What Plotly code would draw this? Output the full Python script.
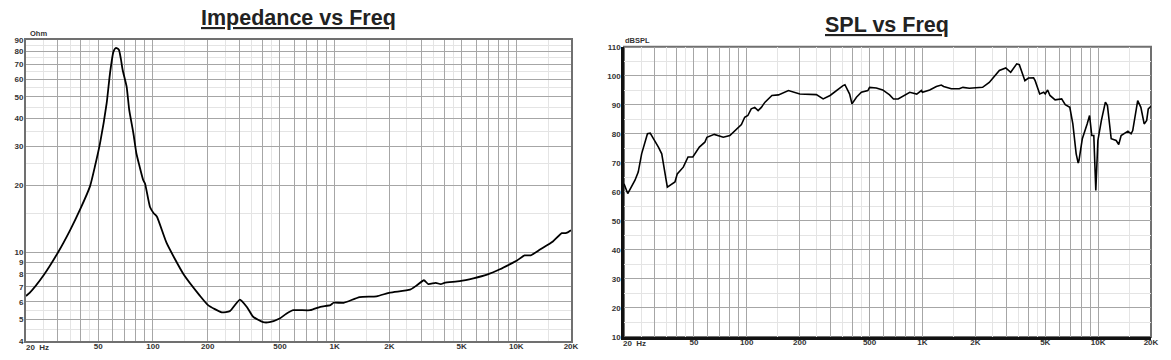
import numpy as np
import plotly.graph_objects as go

# ---------------- data ----------------
imp_freq = [20, 21, 25, 30, 35, 40, 45, 48, 51.1, 55.6, 58.0, 60.6, 62.6, 64.9, 66.5, 68.1, 71.6, 74.0,
            78, 81, 84, 88.4, 90.4, 96.3,
            100.9, 105, 119, 147, 181, 201, 239, 265, 301, 328, 356, 404, 438, 498, 542, 591, 733,
            834, 948, 986, 1122, 1372, 1700, 2014, 2600, 2825, 3100, 3280, 3600, 3840, 4020, 4880,
            5800, 6900, 8120, 9600, 10100, 11100, 12000, 13500, 15900, 17800, 18700, 19800, 20000]
imp_ohm = [6.37, 6.6, 7.9, 10.0, 12.6, 15.8, 19.8, 24.5, 30.9, 46.8, 63.8, 79.8, 83, 81.3, 74.4, 66, 55.6, 43.7,
           34.3, 27.9, 24.7, 21.1, 20.4, 16,
           15, 14.5, 11, 8.0, 6.4, 5.8, 5.38, 5.45, 6.14, 5.7, 5.14, 4.86, 4.86, 5.05, 5.3, 5.5, 5.5,
           5.7, 5.8, 5.94, 5.94, 6.3, 6.35, 6.6, 6.8, 7.1, 7.5, 7.2, 7.3, 7.2, 7.3, 7.43,
           7.65, 7.95, 8.4, 9.0, 9.2, 9.7, 9.7, 10.3, 11.2, 12.2, 12.2, 12.5, 12.6]

spl_freq = [20, 21, 23.1, 24.1, 25.2, 27.2, 28.2, 29.1, 30.0, 31.4, 32.8, 33.8, 34.7, 35.3, 39.0, 40.2,
            43.5, 46.3, 49.3, 53.7, 57.7, 59.3, 65.3, 73.5, 80.1, 87.6, 93.2, 97.3, 101.4, 106, 111,
            116, 121, 127, 139, 151.5, 172.6, 200.4, 249, 272, 298, 353, 362, 385, 397, 421, 449,
            489, 500, 546, 594, 650, 684, 727, 796, 847, 928, 986, 1000, 1100, 1200, 1280, 1320,
            1460, 1620, 1700, 1850, 2100, 2200, 2400, 2600, 2740, 2980, 3180, 3440, 3560, 3830,
            4010, 4290, 4380, 4650, 4900, 5000, 5160, 5320, 5690, 6200, 6500, 6900, 7180, 7500,
            7700, 7780, 8130, 8660, 8940, 9200, 9450, 9700, 9970, 10440, 11000, 11300, 11870,
            12670, 13100, 13520, 14400, 14780, 15400, 15740, 16800, 17510, 18290, 18900, 19300, 20000]
spl_db = [62.8, 59.4, 64, 66.8, 73.1, 80, 80.2, 78.8, 77.7, 75.4, 73.1, 68.5, 64, 61.6, 63.4, 66.2,
          68.5, 72, 72, 75.4, 77.1, 78.8, 79.8, 78.8, 79.4, 81.7, 83.2, 85.7, 86.3, 88.6, 89.1,
          88, 89.1, 90.9, 93.2, 93.4, 94.9, 93.7, 93.5, 92, 93.2, 96.6, 96.9, 93.7, 90.3, 92.6, 94.3,
          94.9, 96, 95.8, 95.1, 93.4, 92, 92, 93.2, 94.3, 93.7, 94.9, 94.3, 95.1, 96.3, 96.8, 96.3,
          95.5, 95.5, 96, 95.7, 96, 96, 97.7, 100, 101.8, 102.7, 101.2, 104.1, 103.8, 98.3,
          99.2, 99.3, 98.3, 93.7, 94.3, 93.7, 95.1, 93.2, 91.7, 92, 90, 89.1, 83.4, 73.1,
          69.9, 70.8, 78.3, 83.4, 86.3, 79.4, 79.4, 60.5, 77.7, 84.6, 90.9, 89.7, 78.3,
          77.7, 76.3, 79.4, 80.5, 80.9, 80, 81.1, 91.4, 89.1, 83.4, 84.6, 88.6, 89.5]

x_major = [m * d for d in (10, 100, 1000, 10000) for m in range(1, 10)
           if 20 <= m * d <= 20000]
x_labels = {50: "50", 100: "100", 200: "200", 500: "500", 1000: "1K",
            2000: "2K", 5000: "5K", 10000: "10K", 20000: "20K"}
x_minor = [m * d for d in (10, 100, 1000, 10000) for m in (1.5, 2.5, 3.5, 4.5)
           if 20 < m * d < 20000]

imp_yticks = [4, 5, 6, 7, 8, 9, 10, 20, 30, 40, 50, 60, 70, 80, 90]
imp_yminor = [4.5, 5.5, 15, 25, 35, 45, 55, 65, 75, 85]
spl_yticks = list(range(10, 111, 10))
spl_yminor = list(range(15, 110, 10))

# ---------------- figure ----------------
W, H = 1171, 360
def fx(px):
    return px / W
def fy(py):
    return 1 - py / H

fig = go.Figure()
fig.add_trace(go.Scatter(x=imp_freq, y=imp_ohm, mode="lines",
                         line=dict(color="black", width=1.8, shape="spline", smoothing=0.5),
                         xaxis="x", yaxis="y", showlegend=False))
fig.add_trace(go.Scatter(x=spl_freq, y=spl_db, mode="lines",
                         line=dict(color="black", width=1.6),
                         xaxis="x2", yaxis="y2", showlegend=False))

FONT = "Liberation Sans, Arial"
tickfont = dict(family=FONT, size=8, color="#333", weight="bold")
major_grid = "#a6a6a6"
minor_grid = "#e4e4e4"

xcommon = dict(type="log", range=[np.log10(20), np.log10(20000)],
               tickmode="array", tickvals=x_major,
               ticktext=[x_labels.get(v, "") for v in x_major],
               showgrid=True, gridcolor=major_grid, gridwidth=1,
               minor=dict(tickmode="array", tickvals=x_minor, showgrid=True,
                          gridcolor=minor_grid, gridwidth=1),
               tickfont=tickfont, ticks="", zeroline=False, tickangle=0,
               automargin=False, ticklabelstandoff=-4)

fig.update_layout(
    width=W, height=H, margin=dict(l=0, r=0, t=0, b=0),
    paper_bgcolor="white", plot_bgcolor="white",
    xaxis=dict(**xcommon, domain=[fx(26), fx(571)], anchor="y",
               showline=True, mirror=True, linecolor="#707070", linewidth=2),
    yaxis=dict(type="log", range=[np.log10(4), np.log10(90)], domain=[fy(341), fy(40)],
               anchor="x", tickmode="array", tickvals=imp_yticks,
               ticktext=[str(v) for v in imp_yticks],
               showgrid=True, gridcolor=major_grid,
               minor=dict(tickmode="array", tickvals=imp_yminor, showgrid=True,
                          gridcolor=minor_grid),
               tickfont=tickfont, ticks="", zeroline=False, automargin=False,
               ticklabelstandoff=-1,
               showline=True, mirror=True, linecolor="#707070", linewidth=2),
    xaxis2=dict(**xcommon, domain=[fx(624), fx(1151)], anchor="y2",
                showline=True, linecolor="#111", linewidth=2.5),
    yaxis2=dict(range=[10, 110], domain=[fy(337), fy(46.7)], anchor="x2",
                tickmode="array", tickvals=spl_yticks,
                showgrid=True, gridcolor=major_grid,
                minor=dict(tickmode="array", tickvals=spl_yminor, showgrid=True,
                           gridcolor=minor_grid),
                tickfont=tickfont, ticks="", zeroline=False, automargin=False,
                ticklabelstandoff=-1,
                showline=True, linecolor="#111", linewidth=2.5),
    shapes=[dict(type="rect", xref="x2 domain", yref="y2 domain", x0=0, x1=1, y0=0, y1=1,
                 line=dict(color="#707070", width=2), layer="below")],
    annotations=[
        dict(text="<b><u>Impedance vs Freq</u></b>", x=fx(298), y=fy(18), xref="paper",
             yref="paper", showarrow=False, xanchor="center", yanchor="middle",
             font=dict(family=FONT, size=21.5, color="#222")),
        dict(text="<b><u>SPL vs Freq</u></b>", x=fx(887), y=fy(25), xref="paper",
             yref="paper", showarrow=False, xanchor="center", yanchor="middle",
             font=dict(family=FONT, size=21.5, color="#222")),
        dict(text="<b>Ohm</b>", x=fx(28), y=fy(33), xref="paper", yref="paper",
             showarrow=False, xanchor="left", yanchor="middle",
             font=dict(family=FONT, size=7.5, color="#333")),
        dict(text="<b>dBSPL</b>", x=fx(623), y=fy(40), xref="paper", yref="paper",
             showarrow=False, xanchor="left", yanchor="middle",
             font=dict(family=FONT, size=7.5, color="#333")),
        dict(text="<b>20\u00a0\u00a0Hz</b>", x=fx(24), y=fy(347), xref="paper", yref="paper",
             showarrow=False, xanchor="left", yanchor="middle",
             font=dict(family=FONT, size=8, color="#333")),
        dict(text="<b>20\u00a0\u00a0Hz</b>", x=fx(621), y=fy(343), xref="paper", yref="paper",
             showarrow=False, xanchor="left", yanchor="middle",
             font=dict(family=FONT, size=8, color="#333")),
    ],
)

fig.write_html("out.html", config={"displayModeBar": False},
               post_script="document.body.style.margin='0';document.body.style.overflow='hidden';")
